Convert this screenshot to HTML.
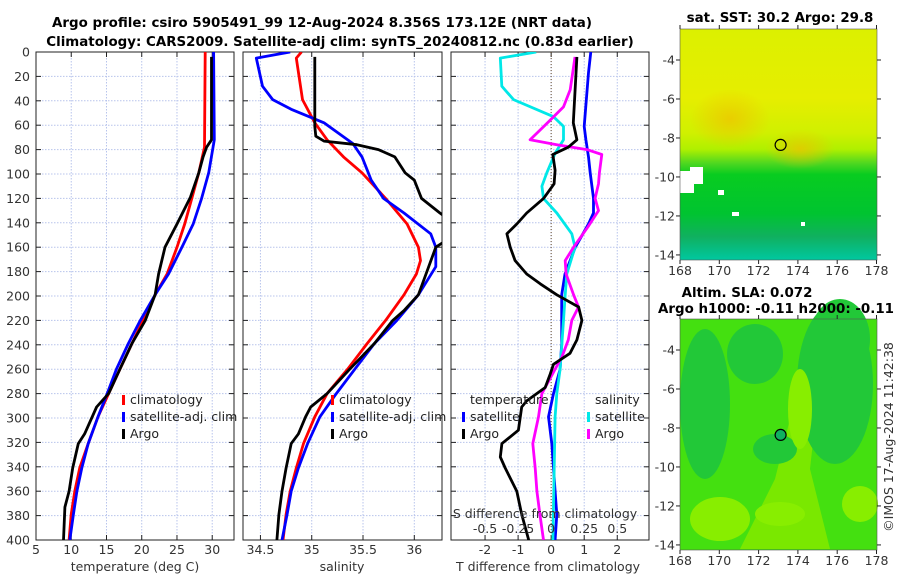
<!DOCTYPE html>
<html><head><meta charset="utf-8"><style>
body{margin:0;background:#fff;}
svg{display:block;font-family:"DejaVu Sans","Liberation Sans",sans-serif;}
.tk{font-size:12.5px;fill:#333;}
.ttl{font-size:13.4px;font-weight:bold;fill:#000;}
.lg{font-size:12.5px;fill:#222;}
</style></head><body>
<svg id="fig" width="900" height="580" viewBox="0 0 900 580">
<defs>
<clipPath id="c1"><rect x="36" y="52" width="198" height="488"/></clipPath>
<clipPath id="c2"><rect x="243" y="52" width="199" height="488"/></clipPath>
<clipPath id="c3"><rect x="451" y="52" width="198" height="488"/></clipPath>
<linearGradient id="sstg" x1="0" y1="0" x2="0" y2="1">
<stop offset="0" stop-color="#dcf000"/><stop offset="0.3" stop-color="#e6ee00"/>
<stop offset="0.45" stop-color="#d0f000"/><stop offset="0.52" stop-color="#b0f000"/>
<stop offset="0.58" stop-color="#50d820"/><stop offset="0.63" stop-color="#08cc20"/>
<stop offset="0.8" stop-color="#00c430"/><stop offset="0.9" stop-color="#10b060"/>
<stop offset="1" stop-color="#00c8a0"/></linearGradient>
<radialGradient id="orng"><stop offset="0" stop-color="#f0c000" stop-opacity="0.7"/><stop offset="1" stop-color="#f0c000" stop-opacity="0"/></radialGradient>
</defs>
<text class="ttl" x="322" y="27" text-anchor="middle">Argo profile: csiro 5905491_99 12-Aug-2024 8.356S 173.12E (NRT data)</text>
<text class="ttl" x="340" y="46" text-anchor="middle">Climatology: CARS2009. Satellite-adj clim: synTS_20240812.nc (0.83d earlier)</text>
<g id="maps"></g>
<g id="panels"></g>
</svg>
<script>
// ---- data (depth in dbar) ----
const tClimD=[0,78,99,120,141,160,182,199,220,239,260,280,299,321,341,360,379,400];
const tClimV=[29.0,28.9,28.1,27.1,26.1,25.0,23.6,21.9,20.2,18.6,16.9,15.3,13.8,12.4,11.2,10.5,10.0,9.7];
const tSatD=[0,72,99,120,141,160,182,199,220,239,260,280,299,321,341,360,379,400];
const tSatV=[30.2,30.3,29.5,28.5,27.3,25.7,23.8,21.9,19.8,18.1,16.4,15.1,13.8,12.4,11.5,10.8,10.3,9.8];
const tArgoD=[4,72,78,86,99,119,141,160,182,199,220,239,260,280,291,313,321,341,360,373,400];
const tArgoV=[29.9,29.9,29.2,28.7,28.1,26.9,25.0,23.3,22.4,21.9,20.5,18.6,16.9,15.3,13.6,11.9,11.0,10.2,9.7,9.1,8.9];
const sClimD=[0,5,39,58,72,86,99,120,141,160,171,182,199,220,239,260,280,299,321,341,360,379,400];
const sClimV=[34.90,34.85,34.91,35.03,35.15,35.31,35.49,35.72,35.93,36.04,36.06,36.02,35.90,35.72,35.54,35.35,35.15,35.03,34.92,34.85,34.79,34.75,34.72];
const sSatD=[0,5,28,39,47,58,75,86,105,120,132,149,160,176,199,220,239,260,280,299,321,341,360,379,400];
const sSatV=[34.79,34.46,34.52,34.62,34.80,35.12,35.40,35.49,35.58,35.70,35.90,36.16,36.21,36.21,36.04,35.83,35.61,35.42,35.24,35.08,34.96,34.87,34.80,34.76,34.71];
const sArgoD=[4,61,69,73,76,80,86,99,105,120,132,137,145,155,160,176,199,212,220,239,260,280,291,299,313,321,341,360,379,400];
const sArgoV=[35.03,35.03,35.04,35.12,35.44,35.65,35.81,35.91,36.00,36.07,36.25,36.33,36.35,36.30,36.21,36.14,36.04,35.90,35.79,35.61,35.37,35.15,34.99,34.94,34.87,34.80,34.75,34.71,34.68,34.66];
const dTSatD=[0,17,61,72,86,99,120,132,141,160,182,199,220,239,260,280,299,321,341,360,379,400];
const dTSatV=[1.20,1.13,1.00,1.05,1.13,1.18,1.28,1.28,1.13,0.73,0.42,0.32,0.32,0.32,0.27,0.07,-0.08,0.02,0.07,0.12,0.17,0.12];
const dTArgoD=[4,58,72,78,84,97,108,120,132,141,149,160,171,182,190,199,209,220,236,247,256,264,275,286,291,310,321,332,341,360,379,400];
const dTArgoV=[0.78,0.67,0.78,0.52,0.05,0.12,0.09,-0.23,-0.74,-1.04,-1.34,-1.24,-1.09,-0.74,-0.33,0.17,0.83,0.93,0.78,0.57,0.07,-0.03,-0.18,-0.74,-0.89,-0.99,-1.49,-1.54,-1.39,-1.04,-0.89,-0.68];
const dSSatD=[0,5,28,39,53,61,72,83,99,110,120,132,149,160,182,199,220,260,280,299,341,400];
const dSSatV=[-0.113,-0.385,-0.373,-0.285,0.018,0.093,0.093,0.03,-0.033,-0.07,-0.058,0.043,0.156,0.18,0.118,0.106,0.093,0.068,0.043,0.03,0.023,0.013];
const dSArgoD=[4,31,45,56,72,76,80,84,99,108,120,130,143,160,171,182,199,209,220,236,250,260,280,299,321,341,360,379,400];
const dSArgoV=[0.18,0.144,0.093,-0.008,-0.159,0.043,0.27,0.383,0.365,0.358,0.332,0.358,0.28,0.17,0.106,0.113,0.17,0.207,0.156,0.13,0.081,0.03,-0.07,-0.096,-0.139,-0.121,-0.108,-0.085,-0.058];
const depthTicks=[0,20,40,60,80,100,120,140,160,180,200,220,240,260,280,300,320,340,360,380,400];
const tTicks=[5,10,15,20,25,30];
const sTicks=[34.5,35,35.5,36];
const sTickLabels=["34.5","35","35.5","36"];
const dtTicks=[-2,-1,0,1,2];
const dsTicks=[-0.5,-0.25,0,0.25,0.5];
const dsTickLabels=["-0.5","-0.25","0","0.25","0.5"];
const lonTicks=[168,170,172,174,176,178];
const latTicks=[-4,-6,-8,-10,-12,-14];
const argoLon=173.12, argoLat=-8.356;

const NS='http://www.w3.org/2000/svg';
function mk(tag,attrs,parent,txt){const e=document.createElementNS(NS,tag);for(const k in attrs)e.setAttribute(k,attrs[k]);if(txt!==undefined)e.textContent=txt;parent.appendChild(e);return e;}
const Y0=52,Y1=540;
const yD=d=>Y0+(d/400)*(Y1-Y0);
const P=document.getElementById('panels');
const panels=[
 {x0:36,x1:234,v0:5,v1:33.09,clip:'c1',name:'temperature-panel'},
 {x0:243,x1:442,v0:34.33,v1:36.27,clip:'c2',name:'salinity-panel'},
 {x0:451,x1:649,v0:-3.03,v1:2.96,clip:'c3',name:'difference-panel'}];
panels.forEach(p=>{p.sx=v=>p.x0+(v-p.v0)/(p.v1-p.v0)*(p.x1-p.x0);});
const dsx=v=>panels[2].sx(v*4);

function frame(p,ticks){
 const g=mk('g',{},P);
 
 
 ticks.forEach(t=>{const x=p.sx(t);mk('line',{x1:x,x2:x,y1:Y0,y2:Y1,stroke:'#b8c4ec','stroke-width':1,'stroke-dasharray':'1.5,1.5'},g);});
 depthTicks.forEach(d=>{const y=yD(d);mk('line',{x1:p.x0,x2:p.x1,y1:y,y2:y,stroke:'#b8c4ec','stroke-width':1,'stroke-dasharray':'1.5,1.5'},g);
  mk('line',{x1:p.x0,x2:p.x0+5,y1:y,y2:y,stroke:'#222'},g);mk('line',{x1:p.x1-5,x2:p.x1,y1:y,y2:y,stroke:'#222'},g);});
 ticks.forEach(t=>{const x=p.sx(t);mk('line',{x1:x,x2:x,y1:Y1,y2:Y1-5,stroke:'#222'},g);mk('line',{x1:x,x2:x,y1:Y0,y2:Y0+5,stroke:'#222'},g);});
 mk('rect',{x:p.x0,y:Y0,width:p.x1-p.x0,height:Y1-Y0,fill:'none',stroke:'#222','stroke-width':1},g);
 return g;
}
function line(p,sx,D,V,color,name,w){
 const pts=D.map((d,i)=>sx(V[i]).toFixed(1)+','+yD(d).toFixed(1)).join(' ');
 const e=mk('polyline',{points:pts,fill:'none',stroke:color,'stroke-width':w||2.8,'stroke-linejoin':'round','clip-path':'url(#'+p.clip+')'},P);
 
 
}
function legItem(x,y,color,label,name){
 mk('rect',{x:x,y:y-9,width:3,height:10,fill:color},P);
 const t=mk('text',{x:x+8,y:y,class:'lg'},P,label);
 
 
}
depthTicks.forEach(d=>{mk('text',{x:30,y:yD(d)+4.5,class:'tk','text-anchor':'end'},P,String(d));});
const p1=panels[0];frame(p1,tTicks);
tTicks.forEach(t=>mk('text',{x:p1.sx(t),y:554,class:'tk','text-anchor':'middle'},P,String(t)));
line(p1,p1.sx,tClimD,tClimV,'#ff0000','temp-climatology-line');
line(p1,p1.sx,tSatD,tSatV,'#0000ff','temp-satellite-line');
line(p1,p1.sx,tArgoD,tArgoV,'#000000','temp-argo-line');
mk('text',{x:135,y:571,class:'tk','text-anchor':'middle'},P,'temperature (deg C)');
legItem(122,404,'#ff0000','climatology','legend-climatology');
legItem(122,421,'#0000ff','satellite-adj. clim','legend-satellite-adj');
legItem(122,438,'#000000','Argo','legend-argo');
const p2=panels[1];frame(p2,sTicks);
sTicks.forEach((t,i)=>mk('text',{x:p2.sx(t),y:554,class:'tk','text-anchor':'middle'},P,sTickLabels[i]));
line(p2,p2.sx,sClimD,sClimV,'#ff0000','sal-climatology-line');
line(p2,p2.sx,sSatD,sSatV,'#0000ff','sal-satellite-line');
line(p2,p2.sx,sArgoD,sArgoV,'#000000','sal-argo-line');
mk('text',{x:342,y:571,class:'tk','text-anchor':'middle'},P,'salinity');
legItem(331,404,'#ff0000','climatology','legend2-climatology');
legItem(331,421,'#0000ff','satellite-adj. clim','legend2-satellite-adj');
legItem(331,438,'#000000','Argo','legend2-argo');
const p3=panels[2];frame(p3,dtTicks);
mk('line',{x1:p3.sx(0),x2:p3.sx(0),y1:Y0,y2:Y1,stroke:'#6a5030','stroke-width':1,'stroke-dasharray':'1,2'},P);
dtTicks.forEach(t=>mk('text',{x:p3.sx(t),y:554,class:'tk','text-anchor':'middle'},P,String(t)));
line(p3,p3.sx,dTSatD,dTSatV,'#0000ff','tdiff-satellite-line');
line(p3,dsx,dSSatD,dSSatV,'#00e8e8','sdiff-satellite-line');
line(p3,dsx,dSArgoD,dSArgoV,'#ff00ff','sdiff-argo-line');
line(p3,p3.sx,dTArgoD,dTArgoV,'#000000','tdiff-argo-line');
mk('text',{x:548,y:571,class:'tk','text-anchor':'middle'},P,'T difference from climatology');
mk('text',{x:545,y:518,class:'tk','text-anchor':'middle'},P,'S difference from climatology');
dsTicks.forEach((t,i)=>mk('text',{x:dsx(t),y:533,class:'tk','text-anchor':'middle'},P,dsTickLabels[i]));
mk('text',{x:470,y:404,class:'lg'},P,'temperature');
mk('text',{x:595,y:404,class:'lg'},P,'salinity');
legItem(462,421,'#0000ff','satellite','legend3-temp-satellite');
legItem(462,438,'#000000','Argo','legend3-temp-argo');
legItem(587,421,'#00e8e8','satellite','legend3-sal-satellite');
legItem(587,438,'#ff00ff','Argo','legend3-sal-argo');

const M=document.getElementById('maps');
function mapFrame(top,bot,name,fillFn,circleFill){
 const g=mk('g',{},M);
 
 
 const x0=680,x1=877;
 const lx=v=>680+(v-168)*19.65;
 const ly=v=>top+((-v)-2.41)*((bot-top)/11.85);
 fillFn(g,x0,top,x1-x0,bot-top,lx,ly);
 mk('rect',{x:x0,y:top,width:x1-x0,height:bot-top,fill:'none',stroke:'#555','stroke-width':0.6},g);
 lonTicks.forEach(v=>{const x=lx(v);mk('line',{x1:x,x2:x,y1:bot,y2:bot+4,stroke:'#222'},g);mk('line',{x1:x,x2:x,y1:top,y2:top-4,stroke:'#222'},g);
  mk('text',{x:x,y:bot+15,class:'tk','text-anchor':'middle'},g,String(v));});
 latTicks.forEach(v=>{const y=ly(v);mk('line',{x1:x0-4,x2:x0,y1:y,y2:y,stroke:'#222'},g);mk('line',{x1:x1,x2:x1+4,y1:y,y2:y,stroke:'#222'},g);
  mk('text',{x:x0-5,y:y+4.5,class:'tk','text-anchor':'end'},g,String(v));});
 const c=mk('circle',{cx:lx(argoLon),cy:ly(argoLat),r:5.5,fill:circleFill,stroke:'#000','stroke-width':1.2},g);
 
 
}
mapFrame(29,260,'sst-map',(g,x,y,w,h)=>{
 mk('rect',{x:x,y:y,width:w,height:h,fill:'url(#sstg)'},g);
 mk('ellipse',{cx:x+50,cy:y+90,rx:40,ry:30,fill:'url(#orng)'},g);
 mk('ellipse',{cx:x+120,cy:y+120,rx:35,ry:20,fill:'url(#orng)'},g);
 [[x,y+142,14,22],[x+10,y+138,13,17],[x+38,y+161,6,5],[x+52,y+183,7,4],[x+121,y+193,4,4]].forEach(r=>mk('rect',{x:r[0],y:r[1],width:r[2],height:r[3],fill:'#fff'},g));
},'none');
mapFrame(319,550,'sla-map',(g,x,y,w,h)=>{
 mk('rect',{x:x,y:y,width:w,height:h,fill:'#44e010'},g);
 mk('polygon',{points:`${x+60},${y+230} ${x+95},${y+160} ${x+120},${y+60} ${x+140},${y+60} ${x+130},${y+150} ${x+150},${y+230}`,fill:'#7ae800'},g);
 [[x+25,y+85,25,75],[x+75,y+35,28,30],[x+155,y+65,38,80],[x+160,y+20,30,40],[x+95,y+130,22,15]].forEach(e=>mk('ellipse',{cx:e[0],cy:e[1],rx:e[2],ry:e[3],fill:'#22c838'},g));
 [[x+120,y+90,12,40],[x+40,y+200,30,22],[x+180,y+185,18,18],[x+100,y+195,25,12]].forEach(e=>mk('ellipse',{cx:e[0],cy:e[1],rx:e[2],ry:e[3],fill:'#88ee00'},g));
},'#10b060');
mk('text',{x:780,y:22,class:'ttl','text-anchor':'middle'},M,'sat. SST: 30.2 Argo: 29.8');
mk('text',{x:747,y:297,class:'ttl','text-anchor':'middle'},M,'Altim. SLA: 0.072');
mk('text',{x:776,y:313,class:'ttl','text-anchor':'middle'},M,'Argo h1000: -0.11 h2000: -0.11');
mk('text',{x:0,y:0,class:'tk','text-anchor':'middle',transform:'translate(893,437) rotate(-90)'},M,'©IMOS 17-Aug-2024 11:42:38');
</script>
</body></html>
